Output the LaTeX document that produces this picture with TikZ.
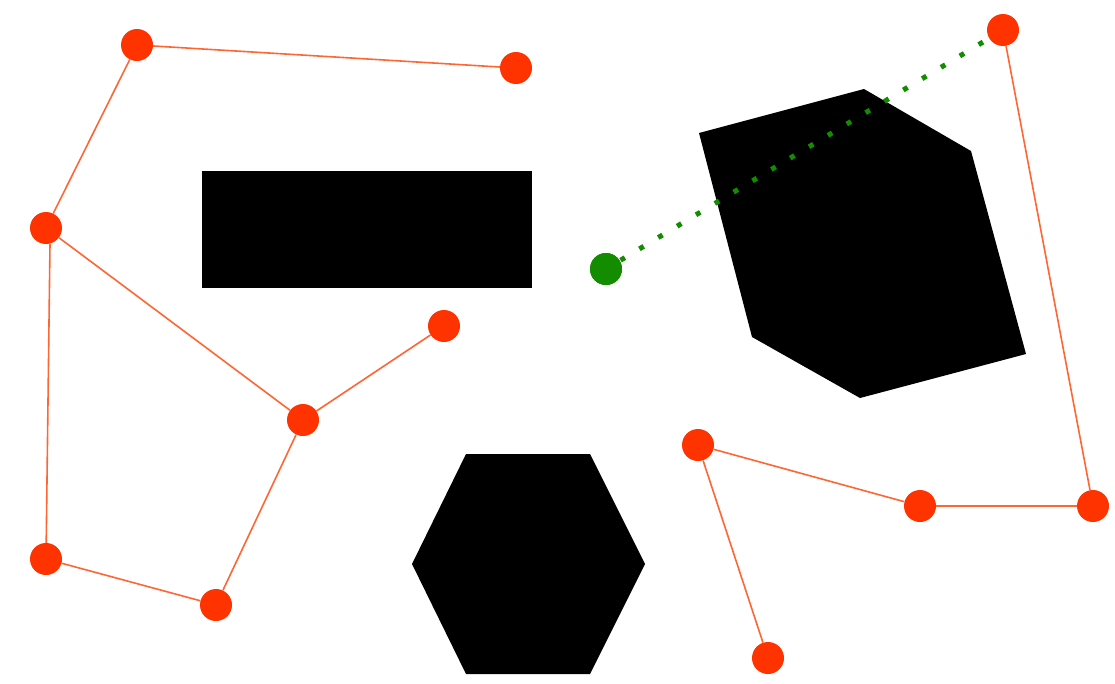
\documentclass[tikz,border=0pt]{standalone}
\definecolor{dotred}{RGB}{255,51,0}
\definecolor{edgered}{RGB}{255,102,51}
\definecolor{dotgreen}{RGB}{20,140,0}
\begin{document}
\begin{tikzpicture}[x=1pt,y=-1pt,
  vtx/.style={circle,fill=dotred,draw=none,minimum size=32pt,inner sep=0pt},
  gvtx/.style={circle,fill=dotgreen,draw=none,minimum size=32pt,inner sep=0pt},
  edge/.style={draw=edgered,line width=1.6pt},
  gedge/.style={draw=dotgreen,line width=5pt,dash pattern=on 5pt off 17pt,dash phase=5pt},
  obstacle/.style={fill=black,draw=none}]
\useasboundingbox (0,0) rectangle (1115,683);
% obstacles
\path[obstacle] (202,171) rectangle (532,288);
\path[obstacle] (466,454) -- (590,454) -- (645,564) -- (590,674) -- (466,674) -- (412,564) -- cycle;
\path[obstacle] (699,133) -- (864,89) -- (971,151) -- (1026,354) -- (860,398) -- (752,337) -- cycle;
% nodes
\node[vtx] (A) at (137,45) {};
\node[vtx] (B) at (516,68) {};
\node[vtx] (C) at (46,228) {};
\node[vtx] (D) at (444,326) {};
\node[vtx] (E) at (303,420) {};
\node[vtx] (F) at (46,559) {};
\node[vtx] (G) at (216,605) {};
\node[vtx] (H) at (698,445) {};
\node[vtx] (I) at (920,506) {};
\node[vtx] (J) at (1093,506) {};
\node[vtx] (K) at (768,658) {};
\node[vtx] (L) at (1003,30) {};
\node[gvtx] (S) at (606,269) {};
% edges
\draw[edge] (A) -- (B);
\draw[edge] (A) -- (C);
\draw[edge] (C) -- (E);
\draw[edge] ([xshift=4pt]C.south) -- (F);
\draw[edge] (E) -- (D);
\draw[edge] (E) -- (G);
\draw[edge] (F) -- (G);
\draw[edge] (H) -- (I);
\draw[edge] (H) -- (K);
\draw[edge] (I) -- (J);
\draw[edge] (J) -- (L);
\draw[gedge] (S.center) -- (L);
\node[gvtx] at (S) {};
\end{tikzpicture}
\end{document}
